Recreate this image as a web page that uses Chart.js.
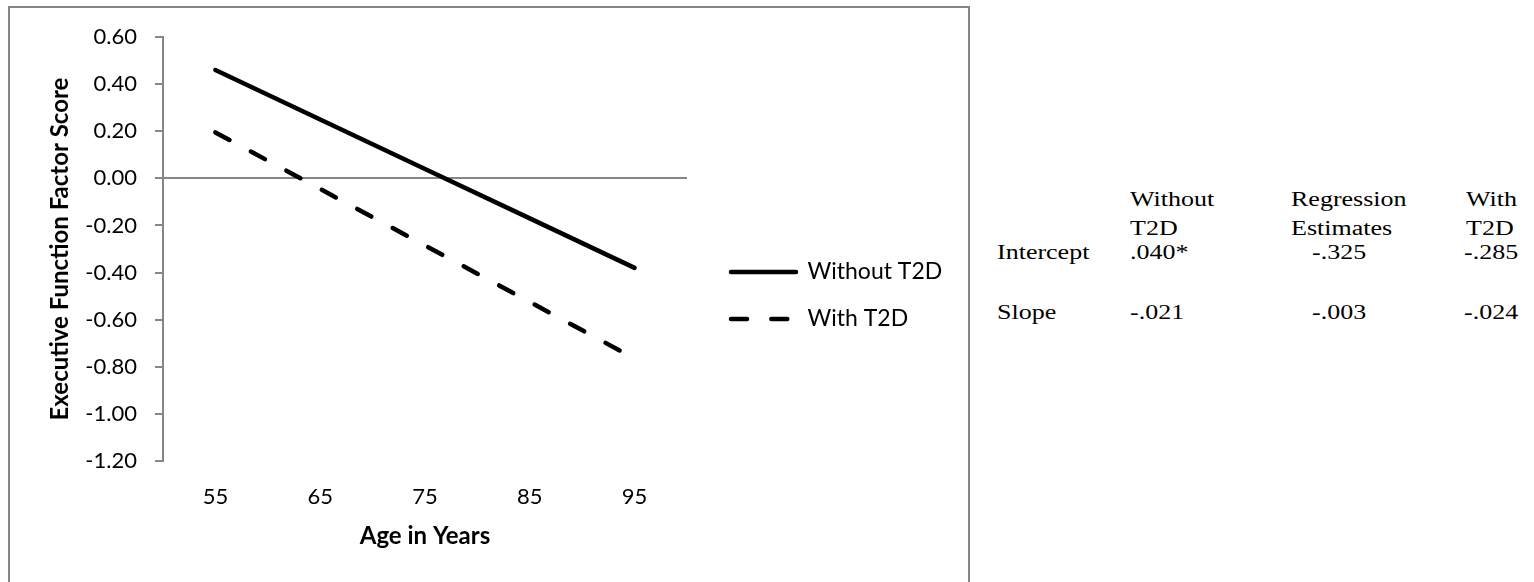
<!DOCTYPE html>
<html>
<head>
<meta charset="utf-8">
<title>Executive Function Factor Score by Age</title>
<script src="https://cdn.jsdelivr.net/npm/chart.js@4.4.0/dist/chart.umd.min.js"></script>
<style>
  html, body { margin: 0; padding: 0; background: #fff; }
  body { width: 1534px; height: 582px; position: relative; overflow: hidden; }
  #frame { position: absolute; left: 8px; top: 6px; width: 962px; height: 700px; box-sizing: border-box;
           border: 2px solid #868686; border-bottom: none; }
  #chart { position: absolute; left: 0; top: 0; }
  .t { position: absolute; font-family: "Liberation Serif", "Times New Roman", serif; font-size: 20px;
       line-height: 1; white-space: nowrap; color: #000; transform: scaleX(1.3); transform-origin: 0 0; }
</style>
</head>
<body>
<div id="frame"></div>
<canvas id="chart" width="969" height="582"></canvas>
<div id="table"></div>
<script>
// Chart data
var ages = ['55', '65', '75', '85', '95'];
var withoutT2D = [0.46, 0.25, 0.04, -0.17, -0.38];
var withT2D = [0.195, -0.045, -0.285, -0.525, -0.765];
var yTicks = { min: -1.2, max: 0.6, step: 0.2 };

// Regression table
var tableHeads = [['Without', 'T2D'], ['Regression', 'Estimates'], ['With', 'T2D']];
var rowNames = ['Intercept', 'Slope'];
var intercepts = ['.040*', '-.325', '-.285'];
var slopes = ['-.021', '-.003', '-.024'];

Chart.defaults.font.family = 'Lato, "Open Sans", sans-serif';
Chart.defaults.font.size = 22;
Chart.defaults.color = '#000';

var GRAY = '#868686';

// table placement (page pixels, text baselines)
var headX = [1130, 1291, 1466];
var valX = [1130, 1312, 1464];
var rowNameX = 997;
var headY = [206, 235];
var rowY = [259, 319];

function addText(txt, x, baseline) {
    var d = document.createElement('div');
    d.className = 't';
    d.textContent = txt;
    d.style.left = x + 'px';
    d.style.top = (baseline - 16.8) + 'px';
    document.getElementById('table').appendChild(d);
}

tableHeads.forEach(function (h, i) {
    addText(h[0], headX[i], headY[0]);
    addText(h[1], headX[i], headY[1]);
});
[intercepts, slopes].forEach(function (vals, r) {
    addText(rowNames[r], rowNameX, rowY[r]);
    vals.forEach(function (v, i) { addText(v, valX[i], rowY[r]); });
});

// put the legend where the original has it
var legendSpot = {
    id: 'legendSpot',
    beforeInit: function (chart) {
        if (!chart.legend) return;
        var fit = chart.legend.fit;
        chart.legend.fit = function () {
            fit.call(this);
            this.width = 282;
        };
    },
    afterLayout: function (chart) {
        var lg = chart.legend;
        lg.left = 707; lg.right = 969;
        lg.top = 236.5; lg.bottom = 582;
        lg.width = lg.right - lg.left;
        lg.height = lg.bottom - lg.top;
    }
};

function initLineChart() {
    var ctx = document.getElementById('chart');
    new Chart(ctx, {
        type: 'line',
        data: {
            labels: ages,
            datasets: [{
                label: 'Without T2D',
                data: withoutT2D,
                borderColor: '#000',
                backgroundColor: '#000',
                borderWidth: 4.5,
                borderCapStyle: 'round',
                pointRadius: 0,
                tension: 0
            }, {
                label: 'With T2D',
                data: withT2D,
                borderColor: '#000',
                backgroundColor: '#000',
                borderWidth: 4.5,
                borderCapStyle: 'round',
                borderDash: [16, 24.3],
                pointRadius: 0,
                tension: 0
            }]
        },
        options: {
            responsive: false,
            animation: false,
            layout: { padding: { top: 37, left: 0, right: 0, bottom: 0 } },
            plugins: {
                tooltip: { enabled: false },
                legend: {
                    position: 'right',
                    align: 'start',
                    labels: {
                        usePointStyle: true,
                        pointStyle: 'line',
                        pointStyleWidth: 65,
                        padding: 24,
                        color: '#000',
                        font: { size: 23 },
                        generateLabels: function (chart) {
                            var items = Chart.defaults.plugins.legend.labels.generateLabels(chart);
                            items.forEach(function (it) {
                                var ds = chart.data.datasets[it.datasetIndex];
                                it.lineDash = ds.borderDash || [];
                                it.lineCap = 'round';
                                it.lineWidth = ds.borderWidth;
                            });
                            return items;
                        }
                    }
                }
            },
            scales: {
                x: {
                    offset: true,
                    grid: { display: false, drawTicks: false },
                    border: { display: false },
                    ticks: { padding: 23, font: { size: 22 } },
                    title: {
                        display: true,
                        text: 'Age in Years',
                        font: { size: 24, weight: 'bold' },
                        padding: { top: 0, bottom: 31 }
                    },
                    afterFit: function (s) { s.height = 121; }
                },
                y: {
                    min: yTicks.min,
                    max: yTicks.max,
                    ticks: {
                        stepSize: yTicks.step,
                        padding: 18,
                        font: { size: 22 },
                        callback: function (v) { return Number(v).toFixed(2); }
                    },
                    grid: {
                        color: function (c) { return Math.abs(c.tick.value) < 1e-9 ? GRAY : 'rgba(0,0,0,0)'; },
                        tickColor: GRAY,
                        tickLength: 8,
                        lineWidth: 2
                    },
                    border: { display: true, color: GRAY, width: 2 },
                    title: {
                        display: true,
                        text: 'Executive Function Factor Score',
                        font: { size: 24, weight: 'bold' },
                        padding: { top: 46, bottom: 0 }
                    },
                    afterFit: function (s) { s.width = 163; }
                }
            }
        },
        plugins: [legendSpot]
    });
}

initLineChart();
</script>
</body>
</html>
